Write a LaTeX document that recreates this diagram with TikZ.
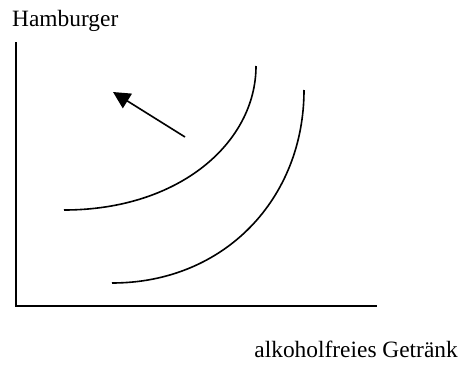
\documentclass[tikz,border=0pt]{standalone}
\usepackage{fontspec}
\setmainfont{Liberation Serif}
\usetikzlibrary{arrows.meta}

\begin{document}
\begin{tikzpicture}[x=1pt, y=-1pt, line cap=butt,
    achse/.style={line width=1.8pt},
    kurve/.style={line width=1.6pt},
    beschrift/.style={inner sep=0pt, font=\fontsize{23.4}{27}\selectfont}]

  \useasboundingbox (0,0) rectangle (461,367);

  % --- Achsen ---
  \coordinate (ursprung) at (16,306);
  \coordinate (yende) at (16,42);
  \coordinate (xende) at (377,306);
  \draw[achse] (yende) -- (ursprung) -- (xende);

  \node[beschrift, anchor=base west] (ylabel) at (12,26) {Hamburger};
  \node[beschrift, anchor=base east] (xlabel) at (458,357) {alkoholfreies Getränk};

  % --- Indifferenzkurven ---
  \coordinate (k1a) at (64,210);
  \coordinate (k1b) at (256,66);
  \draw[kurve] (k1a) .. controls (180,210) and (256,142) .. (k1b);

  \coordinate (k2a) at (112,283);
  \coordinate (k2b) at (304,90);
  \draw[kurve] (k2a) .. controls (225,283) and (304,198) .. (k2b);

  % --- Pfeil nach links oben ---
  \coordinate (pfeilstart) at (185,137);
  \coordinate (pfeilziel) at (113,92);
  \draw[kurve, -{Triangle[length=17pt, width=17pt]}] (pfeilstart) -- (pfeilziel);

\end{tikzpicture}
\end{document}
